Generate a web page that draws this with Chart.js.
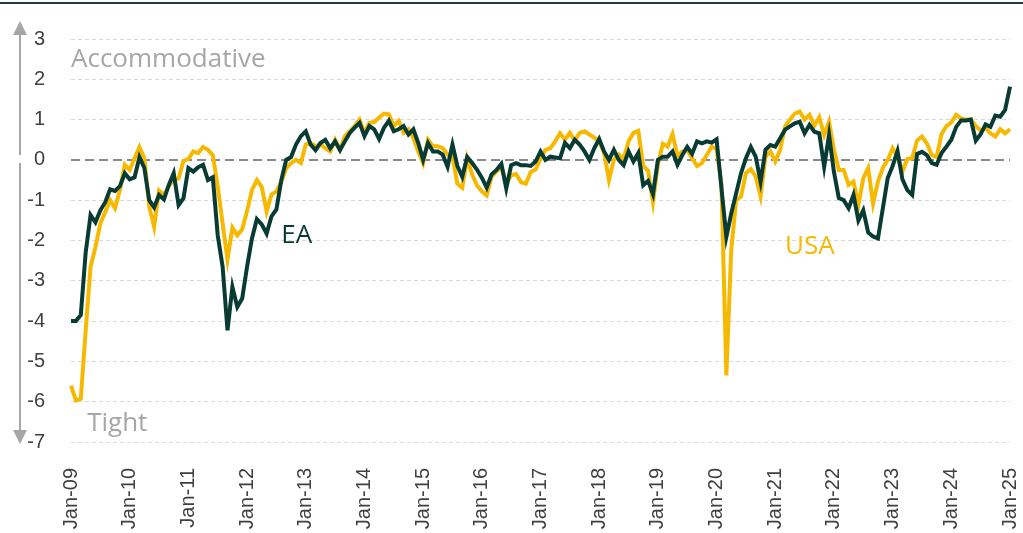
<!DOCTYPE html>
<html>
<head>
<meta charset="utf-8">
<script src="https://cdn.jsdelivr.net/npm/chart.js@4.4.1/dist/chart.umd.min.js"></script>
<style>
    html, body { margin: 0; padding: 0; background: #ffffff; }
    #wrap { position: relative; width: 1023px; height: 533px; }
    #topLine { position: absolute; left: 0; top: 2px; width: 1023px; height: 2px; background: #1f3d3a; }
    canvas { display: block; }
</style>
</head>
<body>
<div id="wrap">
    <div id="topLine"></div>
    <canvas id="policyChart" width="1023" height="533"></canvas>
</div>
<script>
const years = ["09", "10", "11", "12", "13", "14", "15", "16", "17", "18", "19", "20", "21", "22", "23", "24", "25"];
const monthNames = ["Jan", "Feb", "Mar", "Apr", "May", "Jun", "Jul", "Aug", "Sep", "Oct", "Nov", "Dec"];

const yTicks = [3, 2, 1, 0, -1, -2, -3, -4, -5, -6, -7];

// monthly, Jan-09 .. Jan-25
const eaValues = [
    -4.0, -4.0, -3.85, -2.3, -1.37, -1.55, -1.25, -1.05, -0.73, -0.77, -0.65, -0.33,
    -0.48, -0.43, 0.07, -0.2, -1.0, -1.18, -0.87, -0.98, -0.62, -0.33, -1.12, -0.95,
    -0.2, -0.29, -0.18, -0.12, -0.5, -0.43, -1.87, -2.65, -4.23, -3.15, -3.65, -3.44,
    -2.65, -1.95, -1.47, -1.6, -1.83, -1.4, -1.23, -0.5, 0.0, 0.07, 0.38, 0.59,
    0.71, 0.38, 0.24, 0.42, 0.5, 0.29, 0.46, 0.24, 0.46, 0.67, 0.8, 0.92,
    0.59, 0.84, 0.76, 0.52, 0.8, 0.97, 0.71, 0.76, 0.84, 0.63, 0.76, 0.42,
    0.0, 0.42, 0.21, 0.21, 0.13, -0.17, 0.38, -0.15, -0.42, 0.07, -0.07, -0.24,
    -0.44, -0.69, -0.36, -0.25, -0.1, -0.71, -0.13, -0.08, -0.13, -0.13, -0.15, -0.04,
    0.21, 0.0, 0.08, 0.06, 0.04, 0.42, 0.29, 0.5, 0.38, 0.21, 0.0, 0.29,
    0.52, 0.21, 0.0, 0.25, 0.0, -0.13, 0.21, -0.04, 0.17, -0.63, -0.52, -0.85,
    0.0, 0.08, 0.08, 0.21, -0.12, 0.12, 0.32, 0.15, 0.46, 0.41, 0.46, 0.43,
    0.51, -0.7, -1.91, -1.33, -0.83, -0.33, 0.04, 0.32, 0.08, -0.54, 0.25, 0.37,
    0.33, 0.54, 0.75, 0.83, 0.91, 0.95, 0.66, 0.87, 0.7, 0.66, -0.17, 0.62,
    -0.3, -0.95, -1.0, -1.2, -0.87, -1.5, -1.25, -1.8, -1.9, -1.95, -1.2, -0.45,
    -0.15, 0.22, -0.48, -0.75, -0.87, 0.15, 0.2, 0.12, -0.08, -0.12, 0.17, 0.33,
    0.5, 0.82, 0.98, 0.98, 1.0, 0.48, 0.64, 0.88, 0.82, 1.1, 1.07, 1.24,
    1.82
];

const usaValues = [
    -5.6, -5.97, -5.93, -4.23, -2.65, -2.16, -1.58, -1.29, -1.0, -1.2, -0.75, -0.12,
    -0.25, 0.04, 0.32, 0.04, -1.16, -1.66, -0.76, -0.87, -0.65, -0.5, -0.46, -0.02,
    0.02, 0.21, 0.17, 0.32, 0.25, 0.12, -0.66, -1.58, -2.47, -1.68, -1.87, -1.72,
    -1.27, -0.75, -0.5, -0.67, -1.28, -0.86, -0.78, -0.55, -0.21, -0.08, 0.0, -0.08,
    0.38, 0.42, 0.34, 0.38, 0.29, 0.21, 0.5, 0.25, 0.59, 0.71, 0.84, 1.0,
    0.67, 0.92, 0.94, 1.05, 1.15, 1.13, 0.84, 0.97, 0.67, 0.76, 0.55, 0.21,
    -0.08, 0.5, 0.34, 0.34, 0.29, 0.13, 0.08, -0.59, -0.69, 0.04, -0.36, -0.63,
    -0.78, -0.88, -0.42, -0.29, -0.18, -0.59, -0.38, -0.35, -0.55, -0.59, -0.3, -0.24,
    0.03, 0.25, 0.29, 0.46, 0.66, 0.5, 0.67, 0.48, 0.67, 0.71, 0.63, 0.55,
    0.46, 0.18, -0.5, 0.0, 0.13, 0.02, 0.46, 0.67, 0.72, -0.15, -0.27, -1.05,
    -0.12, 0.4, 0.33, 0.64, 0.1, 0.21, 0.25, 0.04, -0.15, -0.08, 0.12, 0.33,
    0.27, -0.6, -5.35, -2.24, -1.0, -0.91, -0.33, -0.23, -0.41, -0.9, 0.08, 0.21,
    -0.04, 0.25, 0.83, 1.0, 1.15, 1.2, 1.0, 1.12, 0.85, 1.06, 0.62, 0.95,
    0.25, -0.25, -0.25, -0.62, -0.54, -1.12, -0.45, -0.2, -1.08, -0.54, -0.2, 0.0,
    0.29, 0.08, -0.29, 0.02, 0.04, 0.48, 0.58, 0.41, 0.12, 0.07, 0.64, 0.84,
    0.93, 1.12, 1.03, 1.0, 1.0, 0.84, 0.73, 0.79, 0.66, 0.58, 0.76, 0.66,
    0.76
];

const labels = [];
years.forEach((yy, i) => {
    monthNames.forEach(m => {
        if (i < years.length - 1 || m === "Jan") {
            labels.push(m + "-" + yy);
        }
    });
});

const eaColor = "#073b34";
const usaColor = "#f7b900";
const noteColor = "#a6a6a6";
const tickFont = { family: "Liberation Sans", size: 20 };
const noteFont = "26px 'Open Sans'";

const overlayPlugin = {
    id: "overlay",
    beforeDatasetsDraw(chart) {
        const { ctx, chartArea, scales } = chart;
        const y0 = scales.y.getPixelForValue(0);
        ctx.save();
        ctx.strokeStyle = "#8a8a8a";
        ctx.lineWidth = 2;
        ctx.setLineDash([9, 5]);
        ctx.beginPath();
        ctx.moveTo(chartArea.left, y0);
        ctx.lineTo(chartArea.right, y0);
        ctx.stroke();
        ctx.restore();
    },
    afterDraw(chart) {
        const { ctx, chartArea, scales } = chart;
        const y = scales.y;
        const x = scales.x;
        const ax = chartArea.left - 51;
        const yTop = y.getPixelForValue(3);
        const yZero = y.getPixelForValue(0);
        const yBottom = y.getPixelForValue(-7);

        ctx.save();
        ctx.strokeStyle = noteColor;
        ctx.fillStyle = noteColor;
        ctx.lineWidth = 2;

        // up arrow
        ctx.beginPath();
        ctx.moveTo(ax, yZero - 5);
        ctx.lineTo(ax, yTop - 5);
        ctx.stroke();
        ctx.beginPath();
        ctx.moveTo(ax, yTop - 18);
        ctx.lineTo(ax - 7, yTop - 4);
        ctx.lineTo(ax + 7, yTop - 4);
        ctx.closePath();
        ctx.fill();

        // down arrow
        ctx.beginPath();
        ctx.moveTo(ax, yZero + 3);
        ctx.lineTo(ax, yBottom - 10);
        ctx.stroke();
        ctx.beginPath();
        ctx.moveTo(ax, yBottom + 2);
        ctx.lineTo(ax - 7, yBottom - 12);
        ctx.lineTo(ax + 7, yBottom - 12);
        ctx.closePath();
        ctx.fill();

        ctx.font = noteFont;
        ctx.textBaseline = "middle";
        ctx.textAlign = "left";
        ctx.fillText("Accommodative", chartArea.left, y.getPixelForValue(2.5));
        ctx.fillText("Tight", x.getPixelForValue(3.3), y.getPixelForValue(-6.55));

        ctx.fillStyle = eaColor;
        ctx.fillText("EA", x.getPixelForValue(43), y.getPixelForValue(-1.87));
        ctx.fillStyle = usaColor;
        ctx.fillText("USA", x.getPixelForValue(146), y.getPixelForValue(-2.14));
        ctx.restore();
    }
};

new Chart(document.getElementById("policyChart"), {
    type: "line",
    data: {
        labels: labels,
        datasets: [
            {
                label: "EA",
                data: eaValues,
                borderColor: eaColor,
                borderWidth: 4,
                pointRadius: 0,
                tension: 0
            },
            {
                label: "USA",
                data: usaValues,
                borderColor: usaColor,
                borderWidth: 4,
                pointRadius: 0,
                tension: 0
            }
        ]
    },
    options: {
        responsive: false,
        animation: false,
        layout: {
            padding: { top: 39, right: 13, left: 0, bottom: 0 }
        },
        plugins: {
            legend: { display: false },
            tooltip: { enabled: false }
        },
        scales: {
            x: {
                grid: { display: false },
                border: { display: false },
                ticks: {
                    autoSkip: false,
                    minRotation: 90,
                    maxRotation: 90,
                    padding: 18,
                    color: "#404040",
                    font: tickFont,
                    callback: function(value, index) {
                        return index % 12 === 0 ? labels[index] : "";
                    }
                },
                afterFit: function(scale) {
                    scale.height = 91;
                    scale.paddingLeft = 0;
                    scale.paddingRight = 0;
                }
            },
            y: {
                min: -7,
                max: 3,
                afterBuildTicks: function(scale) {
                    scale.ticks = yTicks.map(v => ({ value: v }));
                },
                grid: {
                    drawTicks: false,
                    color: function(context) {
                        return context.tick && context.tick.value === 0 ? "rgba(0,0,0,0)" : "#d9d9d9";
                    },
                    lineWidth: 1
                },
                border: { display: false, dash: [4, 3] },
                ticks: {
                    padding: 26,
                    color: "#404040",
                    font: tickFont
                },
                afterFit: function(scale) {
                    scale.width = 71;
                    scale.paddingTop = 0;
                    scale.paddingBottom = 0;
                }
            }
        }
    },
    plugins: [overlayPlugin]
});
</script>
</body>
</html>
